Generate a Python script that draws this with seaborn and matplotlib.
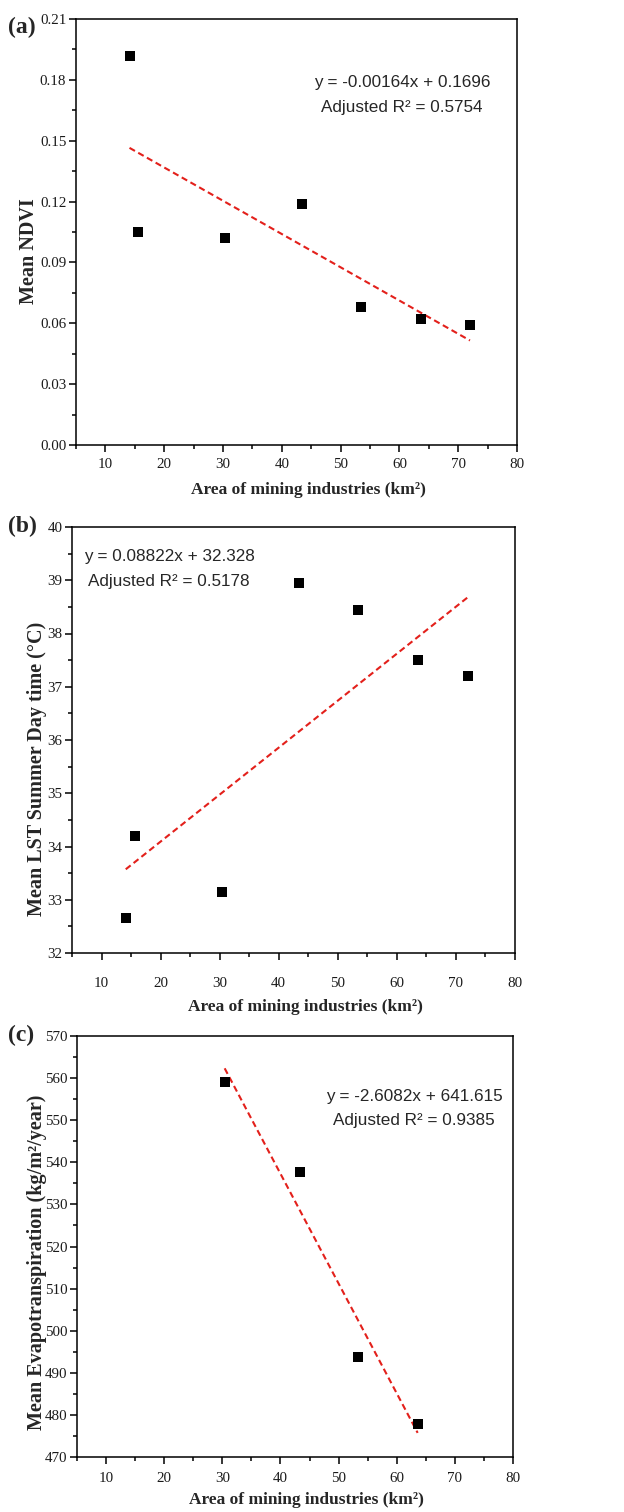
import numpy as np
import pandas as pd
import seaborn as sns
import matplotlib
matplotlib.use("Agg")
import matplotlib.pyplot as plt
from matplotlib.ticker import MultipleLocator, FormatStrFormatter

# mining area (km2) for each district
area = [14.1, 15.6, 30.4, 43.4, 53.4, 63.6, 72.0]
ndvi = [0.192, 0.105, 0.102, 0.119, 0.068, 0.062, 0.059]
lst = [32.65, 34.2, 33.15, 38.95, 38.45, 37.5, 37.2]

# evapotranspiration only available for four of them
area_et = [30.4, 43.4, 53.4, 63.6]
et = [559.1, 537.8, 493.7, 477.9]

# reported fits (slope, intercept, adjusted R2)
fit_ndvi = (-0.00164, 0.1696, "0.5754")
fit_lst = (0.08822, 32.328, "0.5178")
fit_et = (-2.6082, 641.615, "0.9385")

sns.set_theme(style="ticks")
plt.rcParams['font.family'] = ['Liberation Serif', 'DejaVu Serif']

fig = plt.figure(figsize=(6.24, 15.12), dpi=100)

W, H = 624, 1512
def px_axes(l, t, r, b):
    return fig.add_axes([l / W, 1 - b / H, (r - l) / W, (b - t) / H])

panels = [
    dict(box=(76, 19, 517, 445), x=area, y=ndvi, fit=fit_ndvi, ylim=(0, 0.21), major=0.03, minor=0.015,
         fmt="%.2f", ylabel="Mean NDVI", eq="y = -0.00164x + 0.1696", tx=0.739, ty=(0.852, 0.793),
         ylab=(-0.107, 0.455), xlab=(0.526, -0.1056), pad=4, tag="(a)", tagpos=(8, 27)),
    dict(box=(72, 527, 515, 953), x=area, y=lst, fit=fit_lst, ylim=(32, 40), major=1, minor=0.5,
         fmt="%d", ylabel="Mean LST Summer Day time (°C)", eq="y = 0.08822x + 32.328", tx=0.219, ty=(0.930, 0.871),
         ylab=(-0.079, 0.432), xlab=(0.526, -0.1268), pad=12, tag="(b)", tagpos=(8, 526)),
    dict(box=(77, 1036, 513, 1457), x=area_et, y=et, fit=fit_et, ylim=(470, 570), major=10, minor=5,
         fmt="%d", ylabel="Mean Evapotranspiration (kg/m²/year)", eq="y = -2.6082x + 641.615", tx=0.773, ty=(0.857, 0.800),
         ylab=(-0.092, 0.463), xlab=(0.526, -0.102), pad=6, tag="(c)", tagpos=(8, 1035)),
]

for p in panels:
    ax = px_axes(*p["box"])
    df = pd.DataFrame({"x": p["x"], "y": p["y"]})
    slope, icpt, r2 = p["fit"]
    xf = np.array([df["x"].min(), df["x"].max()])
    line = pd.DataFrame({"x": xf, "y": slope * xf + icpt})

    sns.lineplot(data=line, x="x", y="y", ax=ax, color="#e3201b", lw=1.5,
                 linestyle=(0, (3, 1.8)), zorder=2)
    sns.scatterplot(data=df, x="x", y="y", ax=ax, marker="s", s=52, color="black",
                    edgecolor="none", zorder=3)

    ax.set_xlim(5, 80)
    ax.set_ylim(*p["ylim"])
    ax.xaxis.set_major_locator(MultipleLocator(10))
    ax.xaxis.set_minor_locator(MultipleLocator(5))
    ax.yaxis.set_major_locator(MultipleLocator(p["major"]))
    ax.yaxis.set_minor_locator(MultipleLocator(p["minor"]))
    ax.yaxis.set_major_formatter(FormatStrFormatter(p["fmt"]))
    ax.set_xticks([10, 20, 30, 40, 50, 60, 70, 80])

    for s in ax.spines.values():
        s.set_linewidth(1.1)
        s.set_color("black")
    ax.tick_params(which="both", direction="out", width=1.1, color="black",
                   labelsize=10.8, labelcolor="#1a1a1a")
    ax.tick_params(which="major", length=5)
    ax.tick_params(which="minor", length=3)
    ax.tick_params(axis="x", which="major", pad=p["pad"])
    ax.tick_params(axis="y", which="major", pad=2)

    ax.set_xlabel("Area of mining industries (km²)", fontsize=12.5, fontweight="bold", va="center")
    ax.set_ylabel(p["ylabel"], fontsize=14.5, fontweight="bold", va="center")
    ax.xaxis.set_label_coords(*p["xlab"])
    ax.yaxis.set_label_coords(*p["ylab"])

    ax.text(p["tx"], p["ty"][0], p["eq"], transform=ax.transAxes, ha="center", va="center",
            fontsize=12.3, family=["Liberation Sans", "DejaVu Sans"])
    ax.text(p["tx"], p["ty"][1], "Adjusted R² = " + r2, transform=ax.transAxes, ha="center",
            va="center", fontsize=12.3, family=["Liberation Sans", "DejaVu Sans"])

    fig.text(p["tagpos"][0] / W, 1 - p["tagpos"][1] / H, p["tag"], fontsize=17,
             fontweight="bold", ha="left", va="center")

fig.savefig("out.png", dpi=100)
